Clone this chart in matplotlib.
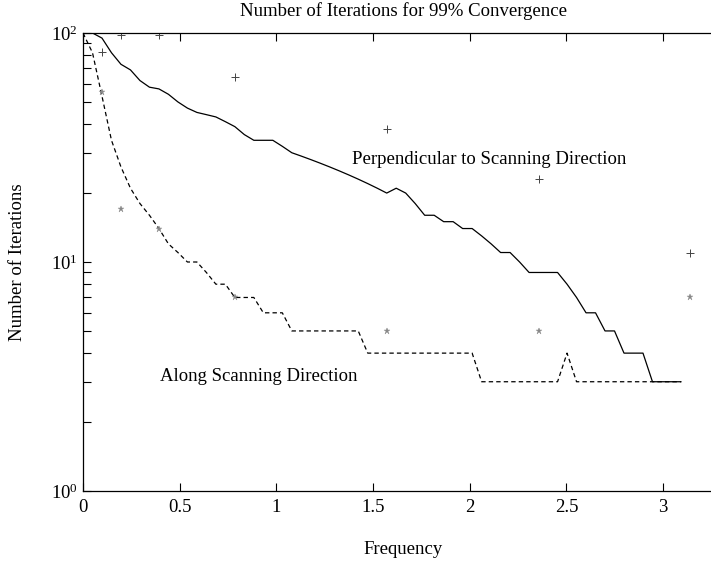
import numpy as np
import matplotlib
matplotlib.use("Agg")
import matplotlib.pyplot as plt
from matplotlib.ticker import LogLocator, NullFormatter

plt.rcParams["font.family"] = "Liberation Serif"
plt.rcParams["mathtext.fontset"] = "stix"

# frequency samples k*pi/64, k = 0..63
freq = np.arange(64) * np.pi / 64

# iterations needed, perpendicular to scanning direction
perp_iters = [100, 100, 95, 82, 73, 69, 62, 58, 57, 54,
              50, 47, 45, 44, 43, 41, 39, 36, 34, 34,
              34, 32, 30, 29, 28, 27, 26, 25, 24, 23,
              22, 21, 20, 21, 20, 18, 16, 16, 15, 15,
              14, 14, 13, 12, 11, 11, 10, 9, 9, 9,
              9, 8, 7, 6, 6, 5, 5, 4, 4, 4,
              3, 3, 3, 3]

# iterations needed, along scanning direction
along_iters = [100, 82, 53, 34, 26, 21, 18, 16, 14, 12,
               11, 10, 10, 9, 8, 8, 7, 7, 7, 6,
               6, 6, 5, 5, 5, 5, 5, 5, 5, 5,
               4, 4, 4, 4, 4, 4, 4, 4, 4, 4,
               4, 4, 3, 3, 3, 3, 3, 3, 3, 3,
               3, 4, 3, 3, 3, 3, 3, 3, 3, 3,
               3, 3, 3, 3]

# predicted values at pi/32, pi/16, pi/8, pi/4, pi/2, 3pi/4, pi
pred_freq = [np.pi / 32, np.pi / 16, np.pi / 8, np.pi / 4, np.pi / 2, 3 * np.pi / 4, np.pi]
pred_perp = [83, 98, 98, 64, 38, 23, 11]
pred_along = [55, 17, 14, 7, 5, 5, 7]

W, H = 711, 563
fig = plt.figure(figsize=(W / 100, H / 100), dpi=100)
left, right, top, bottom = 83, 723, 33, 491
ax = fig.add_axes([left / W, 1 - bottom / H, (right - left) / W, (bottom - top) / H])

ax.plot(freq, perp_iters, color="black", lw=0.9)
ax.plot(freq, along_iters, color="black", lw=0.9, dashes=(3.5, 2.5))
ax.plot(pred_freq, pred_perp, "+", color="#444444", ms=6, mew=0.7)
ax.plot(pred_freq, pred_along, "*", color="#888888", ms=5, mew=0.3)

ax.set_yscale("log")
ax.set_ylim(1, 100)
ax.set_xlim(0, 3.31)
ax.set_xticks([0, 0.5, 1, 1.5, 2, 2.5, 3])
ax.set_xticklabels(["0", "0.5", "1", "1.5", "2", "2.5", "3"])
ax.yaxis.set_minor_locator(LogLocator(base=10, subs=np.arange(2, 10)))
ax.yaxis.set_minor_formatter(NullFormatter())
ax.tick_params(which="both", direction="in", length=6, width=0.8,
               top=True, right=True, labelsize=13.5)
ax.tick_params(axis="x", pad=6)
ax.tick_params(axis="y", pad=4)
for s in ax.spines.values():
    s.set_linewidth(0.9)

ax.text(1.39, 27.9, "Perpendicular to Scanning Direction", fontsize=13.5, va="center")
ax.text(0.40, 3.15, "Along Scanning Direction", fontsize=13.5, va="center")

ax.set_title("Number of Iterations for 99% Convergence", fontsize=13.5, pad=12)
ax.set_xlabel("Frequency", fontsize=13.5, labelpad=18)
ax.set_ylabel("Number of Iterations", fontsize=13.5, labelpad=18)

fig.savefig("out.png", dpi=100)
